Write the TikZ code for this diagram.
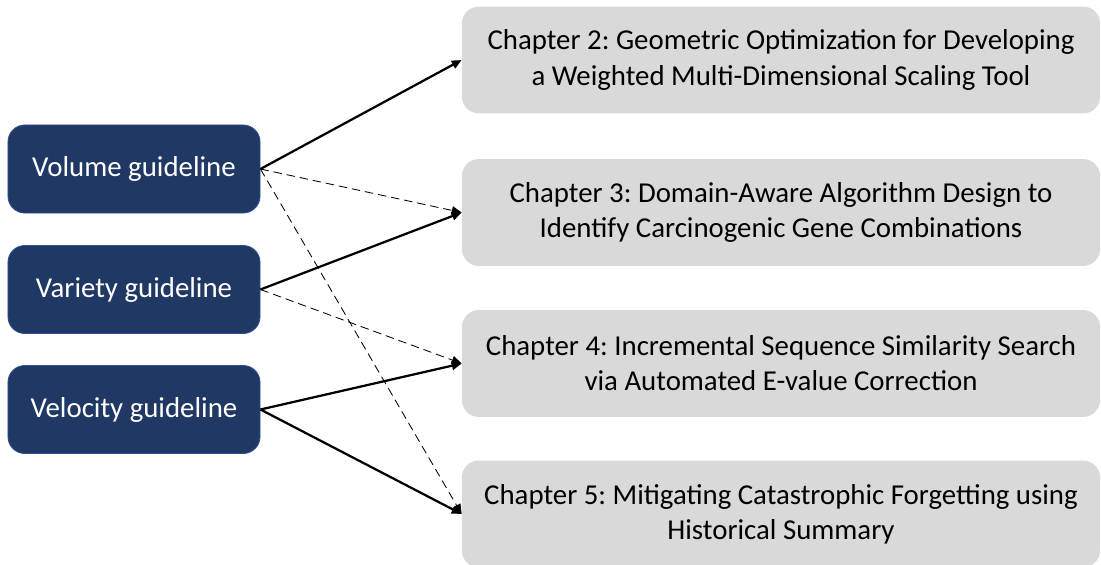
\documentclass[tikz,border=0pt]{standalone}
\usepackage{fontspec}
\setmainfont{Carlito}
\usetikzlibrary{arrows.meta}
\frenchspacing
\definecolor{guidefill}{RGB}{32,56,100}
\definecolor{guideline}{RGB}{47,82,143}
\definecolor{chapterfill}{RGB}{217,217,217}
\tikzset{
    guide/.style={draw=guideline,line width=0.6pt,fill=guidefill,rounded corners=12pt,
        minimum width=6.3cm,minimum height=2.2cm,text=white,
        font=\fontsize{20.5pt}{25.6pt}\selectfont},
    chapter/.style={fill=chapterfill,rounded corners=12pt,
        minimum width=15.95cm,minimum height=2.67cm,align=center,
        font=\fontsize{20.5pt}{25pt}\selectfont},
    link/.style={line width=1.6pt,-{Triangle[length=7pt,width=6pt]}},
    maybe/.style={line width=0.6pt,dash pattern=on 6pt off 3.5pt,-{Triangle[length=7pt,width=6pt]}}
}
\begin{document}
\begin{tikzpicture}[x=0.025cm,y=-0.025cm]
                \useasboundingbox (0,0) rectangle (1101,565);
                \node[guide] (volume) at (134,169) {Volume guideline};
                \node[guide] (variety) at (134,289.5) {Variety guideline};
                \node[guide] (velocity) at (134,409.5) {Velocity guideline};
                \node[chapter] (ch2) at (781,60) {Chapter 2: Geometric Optimization for Developing\\a Weighted Multi-Dimensional Scaling Tool};
                \node[chapter] (ch3) at (781,212.5) {Chapter 3: Domain-Aware Algorithm Design to\\Identify Carcinogenic Gene Combinations};
                \node[chapter] (ch4) at (781,363.5) {Chapter 4: Incremental Sequence Similarity Search\\via Automated E-value Correction};
                \node[chapter] (ch5) at (781,514) {Chapter 5: Mitigating Catastrophic Forgetting using\\Historical Summary};
                % solid links
                \draw[link] (volume.east) -- (ch2.west);
                \draw[link] (variety.east) -- (ch3.west);
                \draw[link] (velocity.east) -- (ch4.west);
                \draw[link] (velocity.east) -- (ch5.west);
                % dashed links
                \draw[maybe] (volume.east) -- (ch3.west);
                \draw[maybe] (volume.east) -- (ch5.west);
                \draw[maybe] (variety.east) -- (ch4.west);
            \end{tikzpicture}
\end{document}
